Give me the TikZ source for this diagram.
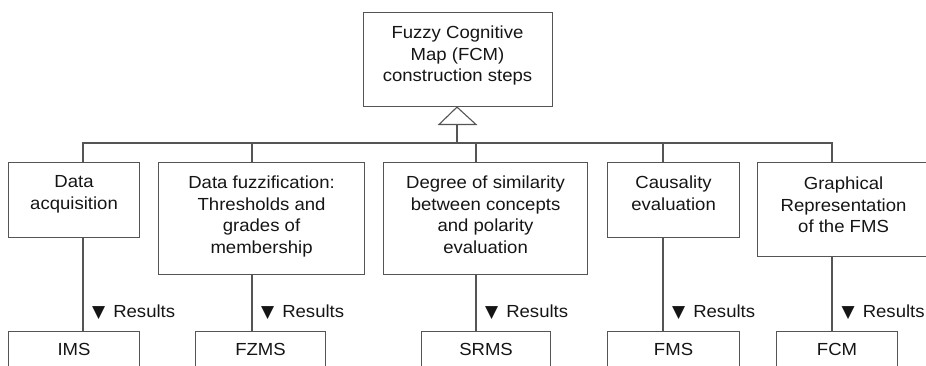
\documentclass[tikz,border=0pt]{standalone}
\usepackage{fontspec}
\setmainfont{Liberation Sans}[FakeStretch=1.06]
\newfontfamily\symfont{DejaVu Sans}
\definecolor{linec}{HTML}{555555}
\definecolor{textc}{HTML}{151515}
\newcommand{\tri}{{\symfont\fontsize{17}{17}\selectfont ▼}\hspace{8pt}}
\begin{document}
\begin{tikzpicture}[x=1pt,y=-1pt,
  box/.style={draw=linec, line width=1.1pt, anchor=north west, inner sep=0pt},
  lbl/.style={anchor=north, align=center, inner sep=0pt, text=textc, font=\fontsize{17.5}{21.7}\selectfont},
  res/.style={anchor=west, inner sep=0pt, text=textc, font=\fontsize{17.5}{21.7}\selectfont},
  conn/.style={draw=linec, line width=1.1pt}]
\useasboundingbox (0,0) rectangle (926,366);
\clip (0,0) rectangle (926,366);
% top box
\node[box, minimum width=189pt, minimum height=94pt] (top) at (363,12) {};
\node[lbl] (toplbl) at (457.5,25.5) {Fuzzy Cognitive\\Map (FCM)\\construction steps};
% step boxes
\node[box, minimum width=131pt, minimum height=75pt] (b1) at (8,162) {};
\node[box, minimum width=206pt, minimum height=112pt] (b2) at (158,162) {};
\node[box, minimum width=204pt, minimum height=112pt] (b3) at (383,162) {};
\node[box, minimum width=132pt, minimum height=75pt] (b4) at (607,162) {};
\node[box, minimum width=172pt, minimum height=94pt] (b5) at (757,162) {};
\node[lbl] (l1) at (b1.north |- 0,175.5) {Data\\acquisition};
\node[lbl] (l2) at (b2.north |- 0,175.5) {Data fuzzification:\\Thresholds and\\grades of\\membership};
\node[lbl] (l3) at (b3.north |- 0,175.5) {Degree of similarity\\between concepts\\and polarity\\evaluation};
\node[lbl] (l4) at (b4.north |- 0,175.5) {Causality\\evaluation};
\node[lbl] (l5) at (b5.north |- 0,176.5) {Graphical\\Representation\\of the FMS};
% result boxes
\node[box, minimum width=131pt, minimum height=60pt] (r1) at (8,331) {};
\node[box, minimum width=130pt, minimum height=60pt] (r2) at (195,331) {};
\node[box, minimum width=129pt, minimum height=60pt] (r3) at (421,331) {};
\node[box, minimum width=132pt, minimum height=60pt] (r4) at (607,331) {};
\node[box, minimum width=121pt, minimum height=60pt] (r5) at (776,331) {};
\node[lbl] (m1) at (r1.north |- 0,343.5) {IMS};
\node[lbl] (m2) at (r2.north |- 0,343.5) {FZMS};
\node[lbl] (m3) at (r3.north |- 0,343.5) {SRMS};
\node[lbl] (m4) at (r4.north |- 0,343.5) {FMS};
\node[lbl] (m5) at (r5.north |- 0,343.5) {FCM};
% connector coordinates
\coordinate (c1) at (83,150);
\coordinate (c2) at (252,150);
\coordinate (c3) at (476,150);
\coordinate (c4) at (663,150);
\coordinate (c5) at (832,150);
\coordinate (bus) at (457,143);
\coordinate (triL) at (439,124.5);
\coordinate (triR) at (476,124.5);
\coordinate (triB) at (457,124.5);
% inheritance triangle
\draw[conn, fill=white, line join=miter] (top.south -| bus) -- (triR) -- (triL) -- cycle;
\draw[conn] (triB) -- (bus);
\foreach \i in {1,...,5} {
  \draw[conn] (bus) -| (b\i.north -| c\i);
  \draw[conn] (b\i.south -| c\i) -- (r\i.north -| c\i);
}
% result labels
\node[res] (t1) at (92,312) {\tri Results};
\node[res] (t2) at (261,312) {\tri Results};
\node[res] (t3) at (485,312) {\tri Results};
\node[res] (t4) at (672,312) {\tri Results};
\node[res] (t5) at (841.5,312) {\tri Results};
\end{tikzpicture}
\end{document}
